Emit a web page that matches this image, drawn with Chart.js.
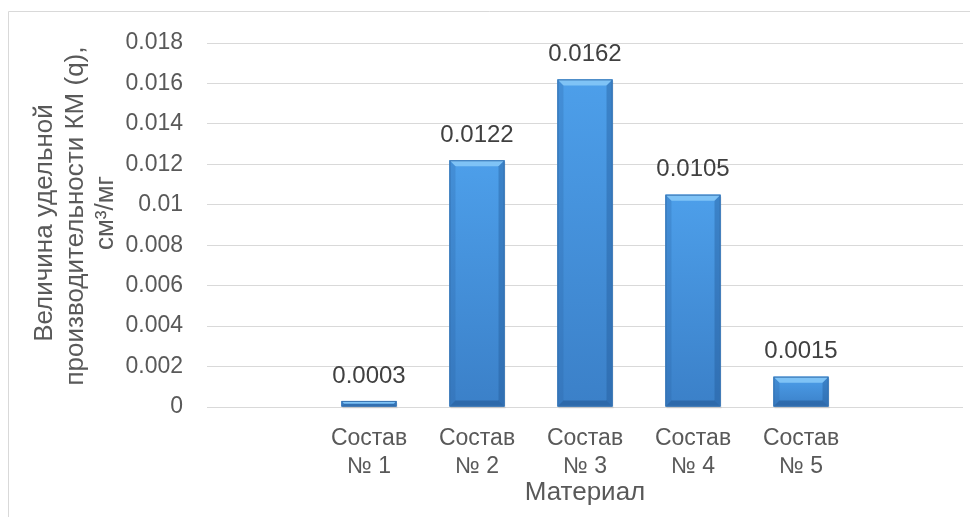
<!DOCTYPE html>
<html lang="ru">
<head>
<meta charset="utf-8">
<title>Удельная производительность КМ</title>
<script src="https://cdn.jsdelivr.net/npm/chart.js@4/dist/chart.umd.min.js"></script>
<style>
  html, body { margin: 0; padding: 0; background: #ffffff; }
  #wrap { position: relative; width: 970px; height: 517px; }
  canvas { display: block; }
</style>
</head>
<body>
<div id="wrap"><canvas id="chart" width="970" height="517"></canvas></div>
<script>
// Categories (empty slots at both ends keep the Excel-style spacing)
const categories = [
  '',
  ['Состав', '№ 1'],
  ['Состав', '№ 2'],
  ['Состав', '№ 3'],
  ['Состав', '№ 4'],
  ['Состав', '№ 5'],
  ''
];
// Specific productivity q, cm³/mg
const qValues = [null, 0.0003, 0.0122, 0.0162, 0.0105, 0.0015, null];
// Value-axis ticks
const yTicks = [0, 0.002, 0.004, 0.006, 0.008, 0.01, 0.012, 0.014, 0.016, 0.018];

const yTitleLines = ['Величина удельной', 'производительности КМ (q),', 'см³/мг'];
const xTitle = 'Материал';

const FONT = '"Liberation Sans", Arial, sans-serif';
const TEXT = '#595959';
const GRID = '#d9d9d9';

// Outer frame lines of the chart area
const framePlugin = {
  id: 'frame',
  beforeDraw(chart) {
    const ctx = chart.ctx;
    ctx.save();
    ctx.strokeStyle = GRID;
    ctx.lineWidth = 1;
    ctx.beginPath();
    ctx.moveTo(8.5, chart.height);
    ctx.lineTo(8.5, 11.5);
    ctx.lineTo(chart.width, 11.5);
    ctx.stroke();
    ctx.restore();
  }
};

// Bevel shading over each bar, based on the bar element geometry
const bevelPlugin = {
  id: 'bevel',
  afterDatasetsDraw(chart) {
    const ctx = chart.ctx;
    const meta = chart.getDatasetMeta(0);
    meta.data.forEach((bar, i) => {
      if (qValues[i] == null) return;
      const p = bar.getProps(['x', 'y', 'base', 'width'], true);
      const l = p.x - p.width / 2, r = p.x + p.width / 2;
      const t = Math.min(p.y, p.base), b = Math.max(p.y, p.base);
      const h = b - t;
      const e = Math.min(6, h / 2);
      ctx.save();
      // soft shadow
      ctx.fillStyle = 'rgba(0,0,0,0.08)';
      ctx.fillRect(l + 1, t + 2, r - l, h);
      // body gradient
      const g = ctx.createLinearGradient(0, t, 0, b);
      g.addColorStop(0, '#4d9fea');
      g.addColorStop(1, '#3b80c8');
      ctx.fillStyle = g;
      ctx.fillRect(l, t, r - l, h);
      // top bevel
      ctx.fillStyle = '#7fc3f6';
      ctx.beginPath();
      ctx.moveTo(l, t); ctx.lineTo(r, t); ctx.lineTo(r - e, t + e); ctx.lineTo(l + e, t + e);
      ctx.closePath(); ctx.fill();
      // left bevel
      ctx.fillStyle = 'rgba(40,95,160,0.25)';
      ctx.beginPath();
      ctx.moveTo(l, t); ctx.lineTo(l + e, t + e); ctx.lineTo(l + e, b - e); ctx.lineTo(l, b);
      ctx.closePath(); ctx.fill();
      // right bevel
      ctx.fillStyle = 'rgba(30,80,140,0.35)';
      ctx.beginPath();
      ctx.moveTo(r, t); ctx.lineTo(r - e, t + e); ctx.lineTo(r - e, b - e); ctx.lineTo(r, b);
      ctx.closePath(); ctx.fill();
      // bottom bevel
      ctx.fillStyle = 'rgba(25,70,125,0.4)';
      ctx.beginPath();
      ctx.moveTo(l, b); ctx.lineTo(r, b); ctx.lineTo(r - e, b - e); ctx.lineTo(l + e, b - e);
      ctx.closePath(); ctx.fill();
      // outline
      ctx.strokeStyle = '#3672b0';
      ctx.lineWidth = 1;
      ctx.strokeRect(l + 0.5, t + 0.5, r - l - 1, h - 1);
      ctx.restore();
    });
  }
};

// Value labels above the bars
const valueLabelPlugin = {
  id: 'valueLabels',
  afterDatasetsDraw(chart) {
    const ctx = chart.ctx;
    const meta = chart.getDatasetMeta(0);
    ctx.save();
    ctx.font = '24px ' + FONT;
    ctx.fillStyle = '#404040';
    ctx.textAlign = 'center';
    ctx.textBaseline = 'middle';
    meta.data.forEach((bar, i) => {
      const v = qValues[i];
      if (v == null) return;
      ctx.fillText(String(v), bar.x, bar.y - 25);
    });
    ctx.restore();
  }
};

// Axis titles
const titlesPlugin = {
  id: 'axisTitles',
  afterDraw(chart) {
    const ctx = chart.ctx;
    ctx.save();
    ctx.font = '26px ' + FONT;
    ctx.fillStyle = TEXT;
    ctx.textAlign = 'center';
    ctx.textBaseline = 'middle';
    const xs = [45, 76, 106];
    const ys = [223, 216, 213];
    yTitleLines.forEach((line, i) => {
      ctx.save();
      ctx.translate(xs[i], ys[i]);
      ctx.rotate(-Math.PI / 2);
      ctx.fillText(line, 0, 0);
      ctx.restore();
    });
    const area = chart.chartArea;
    ctx.fillText(xTitle, (area.left + area.right) / 2, 493);
    ctx.restore();
  }
};

new Chart(document.getElementById('chart'), {
  type: 'bar',
  data: {
    labels: categories,
    datasets: [{
      data: qValues,
      backgroundColor: '#4290da',
      borderWidth: 0,
      barPercentage: 0.51,
      categoryPercentage: 1.0
    }]
  },
  options: {
    responsive: false,
    animation: false,
    layout: { padding: { top: 43, right: 7, left: 0, bottom: 0 } },
    plugins: {
      legend: { display: false },
      tooltip: { enabled: false },
      title: { display: false }
    },
    scales: {
      x: {
        grid: { display: false },
        border: { display: false },
        ticks: {
          color: TEXT,
          font: { family: FONT, size: 23 },
          padding: 10,
          maxRotation: 0,
          autoSkip: false
        },
        afterFit(scale) { scale.height = 110; }
      },
      y: {
        min: 0,
        max: 0.018,
        afterBuildTicks(scale) { scale.ticks = yTicks.map(v => ({ value: v })); },
        grid: { color: GRID, lineWidth: 1, drawTicks: false },
        border: { display: false },
        ticks: {
          color: TEXT,
          font: { family: FONT, size: 23 },
          padding: 24,
          callback: v => String(parseFloat(Number(v).toFixed(4)))
        },
        afterFit(scale) { scale.width = 207; }
      }
    }
  },
  plugins: [framePlugin, bevelPlugin, valueLabelPlugin, titlesPlugin]
});
</script>
</body>
</html>
